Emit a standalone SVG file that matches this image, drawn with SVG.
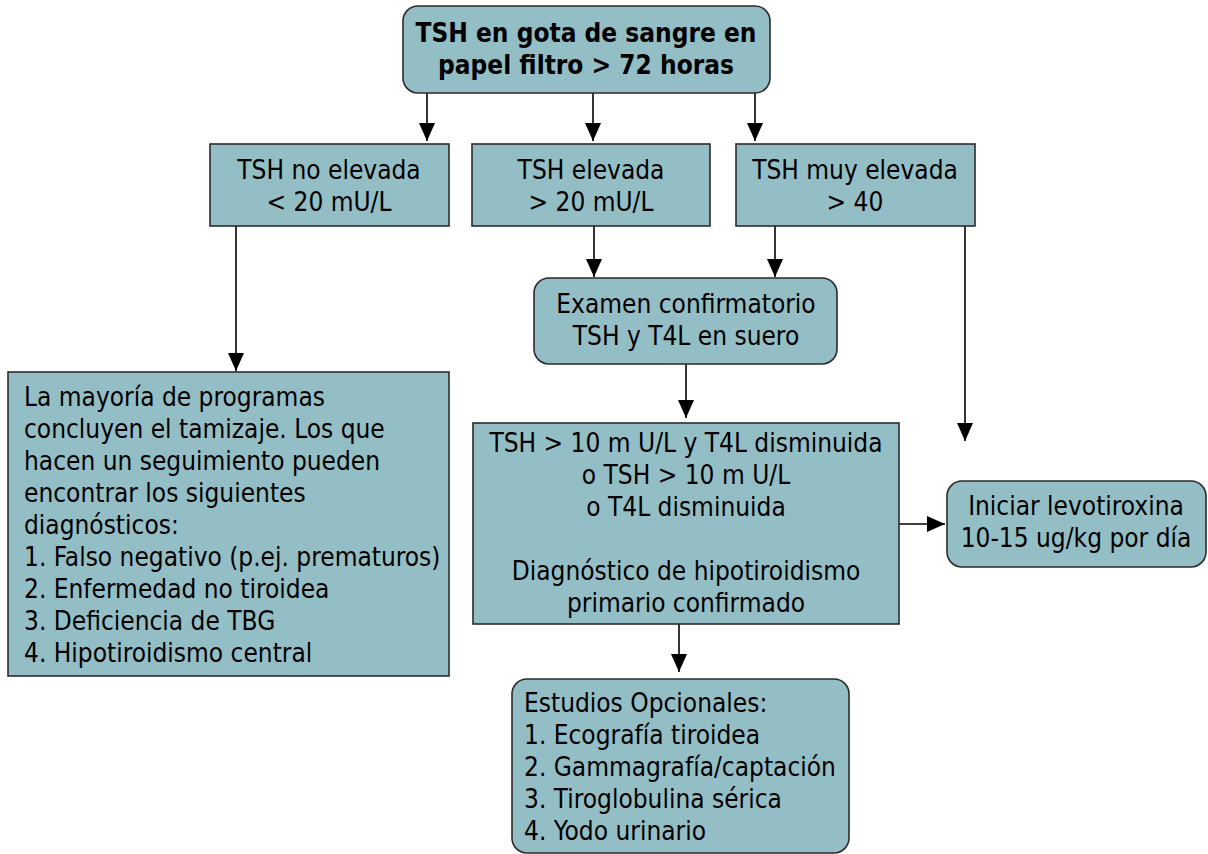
<svg xmlns="http://www.w3.org/2000/svg" width="1208" height="854" viewBox="0 0 1208 854">
<style>
.b{fill:#94BEC6;stroke:#2b2b2b;stroke-width:1.6}
text{font-family:"DejaVu Sans Condensed","DejaVu Sans",sans-serif;font-size:26px;fill:#000}
.c{text-anchor:middle}
.bold{font-weight:bold}
.l{stroke:#000;stroke-width:1.6;fill:none;marker-end:url(#ah)}
</style>
<defs>
<marker id="ah" markerUnits="userSpaceOnUse" markerWidth="20" markerHeight="18" refX="18" refY="8" orient="auto">
<path d="M0,0 L18,8 L0,16 Z" fill="#000"/>
</marker>
</defs>
<rect width="1208" height="854" fill="#fff"/>
<g id="connectors">
<line class="l" x1="427" y1="93" x2="427" y2="141"/>
<line class="l" x1="593" y1="93" x2="593" y2="141"/>
<line class="l" x1="755" y1="93" x2="755" y2="141"/>
<line class="l" x1="236" y1="226" x2="236" y2="371"/>
<line class="l" x1="594" y1="226" x2="594" y2="277"/>
<line class="l" x1="775" y1="226" x2="775" y2="277"/>
<line class="l" x1="965" y1="226" x2="965" y2="441"/>
<line class="l" x1="686" y1="364" x2="686" y2="418"/>
<line class="l" x1="899" y1="524" x2="945" y2="524"/>
<line class="l" x1="679" y1="624" x2="679" y2="672"/>
</g>
<g id="n1">
<rect class="b" x="403" y="6" width="367" height="87" rx="15"/>
<text class="c bold" x="586" y="42">TSH en gota de sangre en</text>
<text class="c bold" x="586" y="74">papel filtro &gt; 72 horas</text>
</g>
<g id="n2">
<rect class="b" x="210" y="144" width="239" height="82"/>
<text class="c" x="329" y="179">TSH no elevada</text>
<text class="c" x="329" y="211">&lt; 20 mU/L</text>
</g>
<g id="n3">
<rect class="b" x="472" y="144" width="238" height="82"/>
<text class="c" x="591" y="179">TSH elevada</text>
<text class="c" x="591" y="211">&gt; 20 mU/L</text>
</g>
<g id="n4">
<rect class="b" x="736" y="144" width="239" height="82"/>
<text class="c" x="855" y="179">TSH muy elevada</text>
<text class="c" x="855" y="211">&gt; 40</text>
</g>
<g id="n5">
<rect class="b" x="8" y="372" width="441" height="304"/>
<text x="24" y="406">La mayoría de programas</text>
<text x="24" y="438">concluyen el tamizaje. Los que</text>
<text x="24" y="470">hacen un seguimiento pueden</text>
<text x="24" y="502">encontrar los siguientes</text>
<text x="24" y="534">diagnósticos:</text>
<text x="24" y="566">1. Falso negativo (p.ej. prematuros)</text>
<text x="24" y="598">2. Enfermedad no tiroidea</text>
<text x="24" y="630">3. Deficiencia de TBG</text>
<text x="24" y="662">4. Hipotiroidismo central</text>
</g>
<g id="n6">
<rect class="b" x="534" y="278" width="303" height="86" rx="15"/>
<text class="c" x="686" y="313">Examen confirmatorio</text>
<text class="c" x="686" y="345">TSH y T4L en suero</text>
</g>
<g id="n7">
<rect class="b" x="473" y="423" width="426" height="201"/>
<text class="c" x="686" y="452">TSH &gt; 10 m U/L y T4L disminuida</text>
<text class="c" x="686" y="484">o TSH &gt; 10 m U/L</text>
<text class="c" x="686" y="516">o T4L disminuida</text>
<text class="c" x="686" y="580">Diagnóstico de hipotiroidismo</text>
<text class="c" x="686" y="612">primario confirmado</text>
</g>
<g id="n8">
<rect class="b" x="947" y="481" width="259" height="86" rx="15"/>
<text class="c" x="1076" y="515">Iniciar levotiroxina</text>
<text class="c" x="1076" y="547">10-15 ug/kg por día</text>
</g>
<g id="n9">
<rect class="b" x="512" y="679" width="337" height="174" rx="15"/>
<text x="524" y="712">Estudios Opcionales:</text>
<text x="524" y="744">1. Ecografía tiroidea</text>
<text x="524" y="776">2. Gammagrafía/captación</text>
<text x="524" y="808">3. Tiroglobulina sérica</text>
<text x="524" y="840">4. Yodo urinario</text>
</g>
</svg>
